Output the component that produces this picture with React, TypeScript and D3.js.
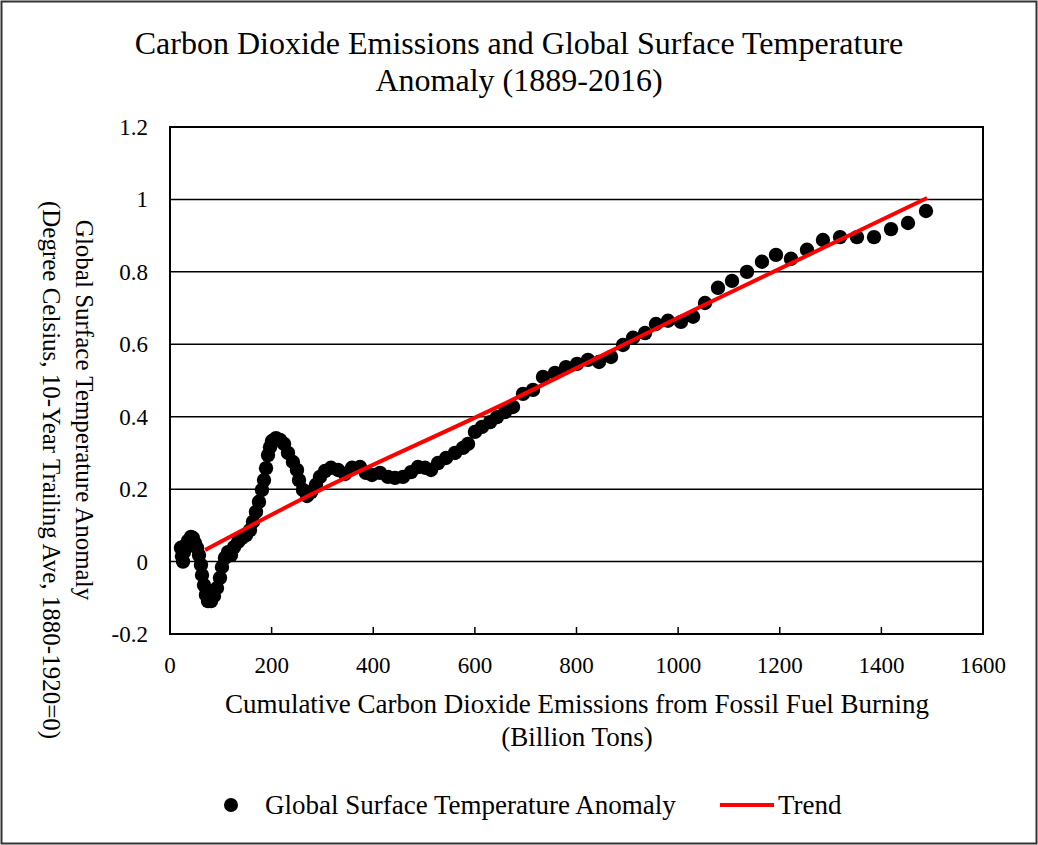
import React from "react";
import * as d3 from "d3";

const emissions: number[] = [
  21.6, 23.6, 25.6, 27.6, 31.5, 35.4, 41.3, 45.3, 49.2, 53.1, 57.1, 61.0, 63.0, 66.9, 70.8, 74.8,
  80.7, 86.6, 92.5, 98.4, 102.3, 108.2, 114.1, 120.0, 126.0, 133.8, 141.7, 149.6, 157.4, 163.3,
  169.2, 175.1, 181.0, 185.0, 189.0, 192.9, 196.8, 200.7, 208.6, 216.5, 224.4, 232.2, 242.0,
  249.9, 253.9, 261.7, 269.6, 277.5, 287.3, 295.2, 305.0, 316.8, 330.6, 344.4, 358.2, 374.0,
  385.7, 397.5, 413.3, 429.0, 442.8, 458.5, 474.3, 488.0, 501.8, 513.6, 527.4, 543.2, 560.9,
  576.6, 586.5, 600.2, 614.0, 629.8, 643.5, 659.3, 675.0, 694.7, 714.4, 734.1, 757.7, 779.3,
  801.0, 822.6, 844.3, 867.9, 891.5, 911.2, 934.8, 956.4, 980.0, 1005.6, 1029.3, 1052.9,
  1078.5, 1106.0, 1135.5, 1165.0, 1192.6, 1222.1, 1253.6, 1285.0, 1318.6, 1352.0, 1385.5,
  1419.0, 1452.4, 1487.8,
];
const anomaly: number[] = [
  0.038, 0.015, 0.0, 0.027, 0.046, 0.057, 0.068, 0.065, 0.051, 0.038, 0.018, -0.009, -0.037,
  -0.065, -0.092, -0.109, -0.109, -0.095, -0.073, -0.045, -0.015, 0.01, 0.026, 0.018, 0.04,
  0.054, 0.065, 0.073, 0.087, 0.11, 0.137, 0.165, 0.198, 0.225, 0.258, 0.294, 0.316, 0.333,
  0.341, 0.336, 0.325, 0.3, 0.275, 0.253, 0.225, 0.198, 0.181, 0.192, 0.212, 0.234, 0.25,
  0.259, 0.253, 0.242, 0.259, 0.261, 0.245, 0.239, 0.245, 0.234, 0.231, 0.234, 0.247, 0.261,
  0.259, 0.253, 0.272, 0.286, 0.3, 0.314, 0.325, 0.358, 0.372, 0.385, 0.399, 0.413, 0.427,
  0.463, 0.474, 0.51, 0.521, 0.537, 0.546, 0.557, 0.551, 0.565, 0.598, 0.618, 0.631, 0.656,
  0.665, 0.662, 0.676, 0.714, 0.756, 0.775, 0.8, 0.828, 0.847, 0.836, 0.861, 0.888, 0.896,
  0.896, 0.896, 0.918, 0.935, 0.968,
];
const trendX: number[] = [69, 256, 649, 1043, 1490];
const trendY: number[] = [0.032, 0.17, 0.43, 0.703, 1.004];

const xTicks: number[] = [0, 200, 400, 600, 800, 1000, 1200, 1400, 1600];
const yTicks: number[] = [-0.2, 0, 0.2, 0.4, 0.6, 0.8, 1, 1.2];

const titleLines = [
  "Carbon Dioxide Emissions and Global Surface Temperature",
  "Anomaly (1889-2016)",
];
const xTitleLines = [
  "Cumulative Carbon Dioxide Emissions from Fossil Fuel Burning",
  "(Billion Tons)",
];
const yTitleLines = [
  "Global Surface Temperature Anomaly",
  "(Degree Celsius, 10-Year Trailing Ave, 1880-1920=0)",
];
const seriesName = "Global Surface Temperature Anomaly";
const trendName = "Trend";

const W = 1038;
const H = 845;
const FONT = "'Liberation Serif', 'Times New Roman', serif";

export default function App() {
  const x = d3.scaleLinear().domain([0, 1600]).range([170, 983]);
  const y = d3.scaleLinear().domain([-0.2, 1.2]).range([634, 127]);
  const pts = emissions.map((e, i) => [e, anomaly[i]] as [number, number]);
  const trend = trendX.map((t, i) => [t, trendY[i]] as [number, number]);
  const line = d3
    .line<[number, number]>()
    .x((d) => x(d[0]))
    .y((d) => y(d[1]))
    .curve(d3.curveMonotoneX);
  const fmtY = (v: number) => (Math.abs(v) < 1e-9 ? "0" : String(+v.toFixed(1)));

  return (
    <svg
      width={W}
      height={H}
      style={{ position: "fixed", left: 0, top: 0, background: "#fff" }}
      fontFamily={FONT}
    >
      <rect x={0} y={0} width={W} height={H} fill="#fff" />
      <rect x={1.5} y={1.5} width={W - 3} height={H - 3} fill="none" stroke="#333" strokeWidth={2} />
      {titleLines.map((t, i) => (
        <text key={t} x={519} y={54 + i * 37} textAnchor="middle" fontSize={32} fill="#000">
          {t}
        </text>
      ))}
      {yTicks.map((v) => (
        <line key={"g" + v} x1={x(0)} x2={x(1600)} y1={y(v)} y2={y(v)} stroke="#000" strokeWidth={1.5} />
      ))}
      <rect x={x(0)} y={y(1.2)} width={x(1600) - x(0)} height={y(-0.2) - y(1.2)} fill="none" stroke="#000" strokeWidth={2} />
      {xTicks.map((v) => (
        <line key={"t" + v} x1={x(v)} x2={x(v)} y1={y(-0.2)} y2={y(-0.2) - 7} stroke="#000" strokeWidth={1.5} />
      ))}
      {xTicks.map((v) => (
        <text key={"xl" + v} x={x(v)} y={673} textAnchor="middle" fontSize={23} fill="#000">
          {v}
        </text>
      ))}
      {yTicks.map((v) => (
        <text key={"yl" + v} x={148} y={y(v) + 8} textAnchor="end" fontSize={23} fill="#000">
          {fmtY(v)}
        </text>
      ))}
      {xTitleLines.map((t, i) => (
        <text key={t} x={577} y={713 + i * 33} textAnchor="middle" fontSize={27} fill="#000">
          {t}
        </text>
      ))}
      <text transform={`translate(76,410) rotate(90)`} textAnchor="middle" fontSize={25} fill="#000">
        {yTitleLines[0]}
      </text>
      <text transform={`translate(43,470) rotate(90)`} textAnchor="middle" fontSize={25} fill="#000">
        {yTitleLines[1]}
      </text>
      {pts.map((p, i) => (
        <circle key={"p" + i} cx={x(p[0])} cy={y(p[1])} r={7.2} fill="#000" />
      ))}
      <path d={line(trend) || ""} fill="none" stroke="#ff0000" strokeWidth={4} />
      <circle cx={231} cy={805} r={7} fill="#000" />
      <text x={265} y={814} fontSize={27} fill="#000">
        {seriesName}
      </text>
      <line x1={720} x2={774} y1={805} y2={805} stroke="#ff0000" strokeWidth={4} />
      <text x={778} y={814} fontSize={27} fill="#000">
        {trendName}
      </text>
    </svg>
  );
}
